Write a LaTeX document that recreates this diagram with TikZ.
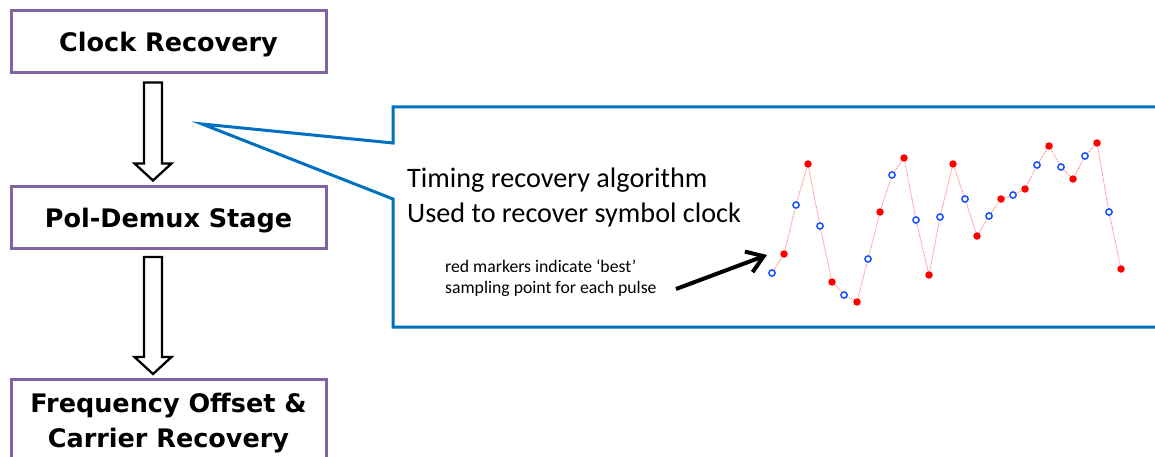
\documentclass[tikz,border=0pt]{standalone}
\usepackage{fontspec}
\setmainfont{Carlito}
\newfontfamily\stagefont{DejaVu Sans}
\usetikzlibrary{arrows.meta,calc}

\definecolor{stagepurple}{RGB}{128,100,162}
\definecolor{calloutblue}{RGB}{0,112,192}
\definecolor{markblue}{RGB}{30,90,255}

\tikzset{
  stage/.style={draw=stagepurple, line width=3pt, minimum width=315pt, minimum height=62pt,
    inner sep=0pt, align=center, font=\stagefont\bfseries\fontsize{25.5}{35}\selectfont},
  stageline/.style={text height=19pt, text depth=0pt},
  stagearrow/.style={draw=black, line width=2.3pt, fill=white, line join=miter},
  callout/.style={draw=calloutblue, line width=3pt, line join=miter},
  bestmark/.style={circle, fill=red, inner sep=0pt, minimum size=7.5pt},
  openmark/.style={circle, draw=markblue, fill=white, line width=1.6pt, inner sep=0pt, minimum size=6.2pt},
  sampline/.style={red!55, densely dotted, line width=0.9pt},
  pointer/.style={line width=4pt, -{Straight Barb[length=16pt,width=22pt]}}
}

% hollow block arrow: #1 = top of shaft, #2 = length
\newcommand{\stagearrow}[2]{%
  \draw[stagearrow] (#1) ++(-9,0) -- ++(0,{#2-17}) -- ++(-9.5,0) -- ++(18.5,17)
    -- ++(18.5,-17) -- ++(-9.5,0) -- ++(0,{17-#2}) -- cycle;}

\begin{document}
\begin{tikzpicture}[x=1pt,y=-1pt]
\clip (0,0) rectangle (1155,457);

% processing chain
\node[stage, stageline] (clock) at (168.5,42) {Clock Recovery};
\node[stage, stageline] (demux) at (168.5,217.5) {Pol-Demux Stage};
\node[stage, anchor=north, inner ysep=14pt] (carrier) at (168.5,378) {Frequency Offset \&\\Carrier Recovery};

\path ($(clock.south)+(-15.5,8)$) coordinate (a1);
\path ($(demux.south)+(-15.5,7)$) coordinate (a2);
\stagearrow{a1}{98}
\stagearrow{a2}{117}

% callout
\coordinate (tip) at (202,124);
\draw[callout] (393,107) -- (1170,107) -- (1170,327) -- (393,327) -- (393,199) -- (tip) -- (393,143) -- cycle;

\node[anchor=base west, align=left, inner sep=0pt, font=\fontsize{28.2}{35}\selectfont] (timing) at (407,222)
  {Timing recovery algorithm\\Used to recover symbol clock};
\node[anchor=base west, align=left, inner sep=0pt, font=\fontsize{17.7}{21.5}\selectfont] (note) at (445,293.5)
  {red markers indicate ‘best’\\sampling point for each pulse};

% samples: odd = open blue, even = best (red)
\foreach \x/\y [count=\i] in {772/273, 784/254, 796/205, 808/164, 820/226, 832/282, 844/295, 857/302,
    868/259, 880/212, 892/175, 904/158, 916/220, 929/275, 940/217, 953/164, 965/199, 977/236,
    989/216, 1001/199, 1013/195, 1025/189, 1037/165, 1049/146, 1061/167, 1073/179, 1085/156,
    1097/143, 1109/212, 1121/269}
{
  \ifodd\i \node[openmark] (s\i) at (\x,\y) {}; \else \node[bestmark] (s\i) at (\x,\y) {}; \fi
}
\foreach \i [evaluate=\i as \j using int(\i+1)] in {1,...,29}
  \draw[sampline] (s\i) -- (s\j);

\coordinate (pointtail) at (676,289);
\coordinate (pointtip) at (767,255);
\draw[pointer] (pointtail) -- (pointtip);
\end{tikzpicture}
\end{document}
